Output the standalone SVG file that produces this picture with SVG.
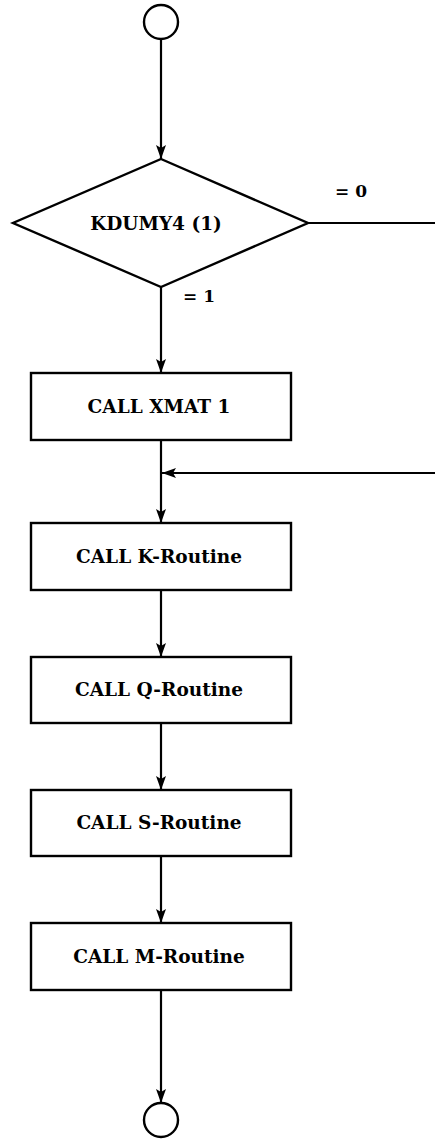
<svg xmlns="http://www.w3.org/2000/svg" width="435" height="1140" viewBox="0 0 435 1140">
  <style>
    .shape { fill: #ffffff; stroke: #000000; stroke-width: 2.4; }
    .wire { fill: none; stroke: #000000; stroke-width: 2.2; }
    .label { font-family: "DejaVu Serif", "Liberation Serif", serif; font-weight: bold; font-size: 18.5px; fill: #000000; text-anchor: middle; }
    .cond { font-family: "DejaVu Serif", "Liberation Serif", serif; font-weight: bold; font-size: 17px; fill: #000000; }
  </style>
  <defs>
    <marker id="arrow" viewBox="0 0 14 10" refX="14" refY="5" markerWidth="14" markerHeight="10" markerUnits="userSpaceOnUse" orient="auto">
      <path d="M0,0 L14,5 L0,10 L3,5 Z" fill="#000000"/>
    </marker>
  </defs>

  <rect width="435" height="1140" fill="#ffffff"/>

  <!-- connectors -->
  <g id="connectors">
    <line class="wire" x1="161" y1="39" x2="161" y2="159" marker-end="url(#arrow)"/>
    <line class="wire" x1="308" y1="223" x2="435" y2="223"/>
    <line class="wire" x1="161" y1="287" x2="161" y2="373" marker-end="url(#arrow)"/>
    <line class="wire" x1="161" y1="440" x2="161" y2="523" marker-end="url(#arrow)"/>
    <line class="wire" x1="435" y1="473" x2="162" y2="473" marker-end="url(#arrow)"/>
    <line class="wire" x1="161" y1="590" x2="161" y2="657" marker-end="url(#arrow)"/>
    <line class="wire" x1="161" y1="723" x2="161" y2="790" marker-end="url(#arrow)"/>
    <line class="wire" x1="161" y1="856" x2="161" y2="923" marker-end="url(#arrow)"/>
    <line class="wire" x1="161" y1="990" x2="161" y2="1103" marker-end="url(#arrow)"/>
    <text class="cond" x="335" y="197">= 0</text>
    <text class="cond" x="183" y="302">= 1</text>
  </g>

  <!-- start terminal -->
  <g id="start">
    <circle class="shape" cx="161" cy="22" r="17"/>
  </g>

  <!-- decision -->
  <g id="decision">
    <polygon class="shape" points="161,159 308,223 161,287 13,223"/>
    <text class="label" x="156" y="230">KDUMY4 (1)</text>
  </g>

  <g id="xmat1">
    <rect class="shape" x="31" y="373" width="260" height="67"/>
    <text class="label" x="159" y="413">CALL XMAT 1</text>
  </g>

  <g id="k-routine">
    <rect class="shape" x="31" y="523" width="260" height="67"/>
    <text class="label" x="159" y="563">CALL K-Routine</text>
  </g>

  <g id="q-routine">
    <rect class="shape" x="31" y="657" width="260" height="66"/>
    <text class="label" x="159" y="696">CALL Q-Routine</text>
  </g>

  <g id="s-routine">
    <rect class="shape" x="31" y="790" width="260" height="66"/>
    <text class="label" x="159" y="829">CALL S-Routine</text>
  </g>

  <g id="m-routine">
    <rect class="shape" x="31" y="923" width="260" height="67"/>
    <text class="label" x="159" y="963">CALL M-Routine</text>
  </g>

  <!-- end terminal -->
  <g id="end">
    <circle class="shape" cx="161" cy="1120" r="17"/>
  </g>
</svg>
